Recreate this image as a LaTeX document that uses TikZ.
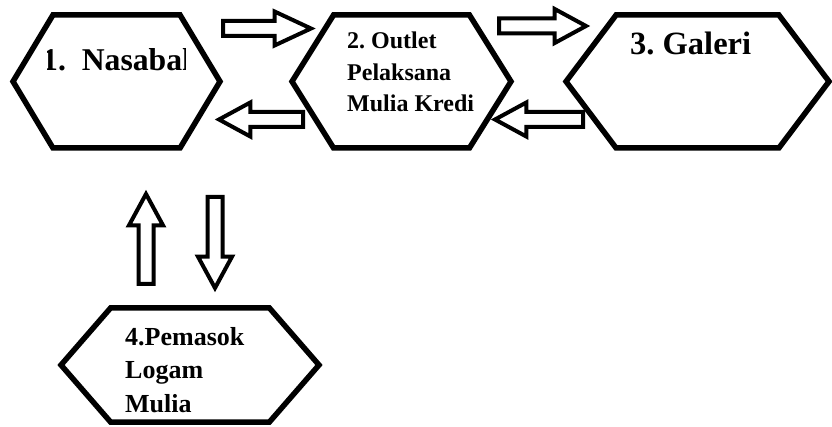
\documentclass[tikz,border=0pt]{standalone}
\usepackage{fontspec}
\setmainfont{Liberation Serif}
\usetikzlibrary{shapes.symbols, shapes.arrows}
\frenchspacing
\tikzstyle{hexbox} = [signal, signal to=west and east, draw=black, line width=5.5pt, inner sep=0pt, fill=white]
\tikzstyle{blockarrow} = [single arrow, anchor=tail, draw=black, line width=4pt, fill=white, inner sep=5.5pt, single arrow head extend=9.5pt, single arrow tip angle=57]
\tikzstyle{bigtext} = [anchor=base west, inner sep=0pt, font=\fontsize{32.5}{38}\selectfont\bfseries]
\tikzstyle{smalltext} = [anchor=base west, inner sep=0pt, align=left, font=\fontsize{24}{31.5}\selectfont\bfseries]

\begin{document}
\begin{tikzpicture}[x=1pt, y=-1pt]
                \useasboundingbox (0,0) rectangle (832,427);
                \node (nasabah) [hexbox, minimum width=207pt, minimum height=133pt, signal pointer angle=118] at (116.5,81.5) {};
                \node (outlet) [hexbox, minimum width=219pt, minimum height=133pt, signal pointer angle=116] at (401.5,81.5) {};
                \node (galeri) [hexbox, minimum width=263pt, minimum height=133pt, signal pointer angle=106] at (697.5,81.5) {};
                \node (pemasok) [hexbox, minimum width=258pt, minimum height=114pt, signal pointer angle=98] at (190,365) {};

                \begin{scope}
                    \clip (47,0) rectangle (185,150);
                    \node (nasabahtext) [bigtext, font=\fontsize{31.7}{38}\selectfont\bfseries] at (42,71) {1.\ \ Nasabah};
                \end{scope}
                \node (outlettext) [smalltext] at (347,112) {2. Outlet\\Pelaksana\\Mulia Kredi};
                \node (galeritext) [bigtext] at (630,55) {3. Galeri};
                \node (pemasoktext) [smalltext, font=\fontsize{26}{33.5}\selectfont\bfseries] at (125,412) {4.Pemasok\\Logam\\Mulia};

                \node (kirim1) [blockarrow, minimum height=88pt, single arrow tip angle=50] at (221,28.5) {};
                \node (balik1) [blockarrow, minimum height=84pt, shape border rotate=180] at (305,119.5) {};
                \node (kirim2) [blockarrow, minimum height=87pt] at (497,26) {};
                \node (balik2) [blockarrow, minimum height=88pt, shape border rotate=180] at (585,119.5) {};
                \node (naik) [blockarrow, minimum height=90pt, shape border rotate=90] at (146,286) {};
                \node (turun) [blockarrow, minimum height=91pt, shape border rotate=270] at (215,195) {};
            \end{tikzpicture}
\end{document}
